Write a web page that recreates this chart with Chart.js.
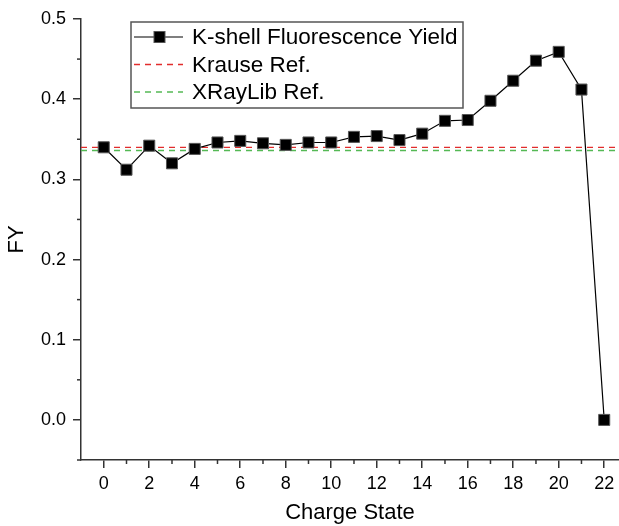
<!DOCTYPE html>
<html>
<head>
<meta charset="utf-8">
<script src="https://cdn.jsdelivr.net/npm/chart.js@4/dist/chart.umd.min.js"></script>
<style>
  html, body { margin: 0; padding: 0; background: #fff; }
  #wrap { width: 619px; height: 526px; }
  canvas { display: block; }
</style>
</head>
<body>
<div id="wrap"><canvas id="fyChart" width="619" height="526"></canvas></div>
<script>
const chargeState = [0, 1, 2, 3, 4, 5, 6, 7, 8, 9, 10, 11, 12, 13, 14, 15, 16, 17, 18, 19, 20, 21, 22];
const fluorescenceYield = [0.340, 0.312, 0.342, 0.320, 0.338, 0.346, 0.348, 0.345, 0.343, 0.346, 0.346, 0.353,
  0.354, 0.349, 0.357, 0.373, 0.374, 0.398, 0.423, 0.448, 0.459, 0.412, 0.000];
const krauseRef = 0.340;
const xraylibRef = 0.336;

const xLimits = [-1, 22.65];
const yLimits = [-0.05, 0.5];
const xTicks = [0, 2, 4, 6, 8, 10, 12, 14, 16, 18, 20, 22];
const yTicks = [0.0, 0.1, 0.2, 0.3, 0.4, 0.5];
const xMinorTicks = [1, 3, 5, 7, 9, 11, 13, 15, 17, 19, 21];
const yMinorTicks = [-0.05, 0.05, 0.15, 0.25, 0.35, 0.45];

const seriesLabels = ["K-shell Fluorescence Yield", "Krause Ref.", "XRayLib Ref."];
const axisColor = "#333";
const font = "'Liberation Sans', Arial, sans-serif";

// minor ticks + boxed legend like the original plot
const extras = {
  id: "extras",
  afterDraw(chart) {
    const ctx = chart.ctx;
    const xs = chart.scales.x;
    const ys = chart.scales.y;
    const area = chart.chartArea;
    ctx.save();
    ctx.strokeStyle = axisColor;
    ctx.lineWidth = 1.5;
    xMinorTicks.forEach((v) => {
      const px = xs.getPixelForValue(v);
      ctx.beginPath();
      ctx.moveTo(px, area.bottom);
      ctx.lineTo(px, area.bottom + 4);
      ctx.stroke();
    });
    yMinorTicks.forEach((v) => {
      const py = ys.getPixelForValue(v);
      ctx.beginPath();
      ctx.moveTo(area.left, py);
      ctx.lineTo(area.left - 4, py);
      ctx.stroke();
    });

    // legend
    const bx = area.left + 50;
    const by = area.top + 3;
    const bw = 332;
    const bh = 86;
    ctx.strokeStyle = "#555";
    ctx.lineWidth = 1.5;
    ctx.strokeRect(bx, by, bw, bh);
    ctx.font = "22.5px " + font;
    ctx.textBaseline = "middle";
    ctx.fillStyle = "#000";
    chart.data.datasets.forEach((ds, i) => {
      const cy = by + 15 + i * 27.5;
      ctx.strokeStyle = ds.borderColor;
      ctx.lineWidth = ds.borderWidth;
      ctx.setLineDash(ds.borderDash || []);
      ctx.beginPath();
      ctx.moveTo(bx + 3, cy);
      ctx.lineTo(bx + 52, cy);
      ctx.stroke();
      ctx.setLineDash([]);
      if (i === 0) {
        ctx.fillStyle = "#000";
        ctx.strokeStyle = "#555";
        ctx.lineWidth = 1;
        ctx.fillRect(bx + 23, cy - 5.5, 11, 11);
        ctx.strokeRect(bx + 23, cy - 5.5, 11, 11);
      }
      ctx.fillStyle = "#000";
      ctx.fillText(ds.label, bx + 61, cy + 1);
    });
    ctx.restore();
  },
};

const ctx = document.getElementById("fyChart").getContext("2d");
const chart = new Chart(ctx, {
  type: "line",
  data: {
    datasets: [
      {
        label: seriesLabels[0],
        data: chargeState.map((c, i) => ({ x: c, y: fluorescenceYield[i] })),
        borderColor: "#000",
        borderWidth: 1.2,
        pointStyle: "rect",
        pointRadius: 7.8,
        pointBackgroundColor: "#000",
        pointBorderColor: "#555",
        pointBorderWidth: 1,
        order: 0,
      },
      {
        label: seriesLabels[1],
        data: xLimits.map((x) => ({ x: x, y: krauseRef })),
        borderColor: "rgb(225, 45, 45)",
        borderWidth: 1.3,
        borderDash: [6, 5],
        pointRadius: 0,
        order: 1,
      },
      {
        label: seriesLabels[2],
        data: xLimits.map((x) => ({ x: x, y: xraylibRef })),
        borderColor: "rgb(85, 185, 85)",
        borderWidth: 1.3,
        borderDash: [6, 5],
        pointRadius: 0,
        order: 2,
      },
    ],
  },
  options: {
    responsive: false,
    animation: false,
    layout: { autoPadding: false, padding: { top: 19, right: 0, left: 0, bottom: 0 } },
    plugins: {
      legend: { display: false },
      tooltip: { enabled: false },
    },
    scales: {
      x: {
        type: "linear",
        min: xLimits[0],
        max: xLimits[1],
        afterBuildTicks: (s) => {
          s.ticks = xTicks.map((v) => ({ value: v }));
        },
        afterFit: (s) => {
          s.height = 66;
          s.paddingLeft = 0;
          s.paddingRight = 0;
        },
        ticks: {
          color: "#000",
          font: { family: font, size: 18 },
          padding: 5,
          maxRotation: 0,
          callback: (v) => String(v),
        },
        grid: { drawOnChartArea: false, tickLength: 8, color: axisColor, lineWidth: 1.5 },
        border: { display: true, color: axisColor, width: 1.5 },
        title: {
          display: true,
          text: "Charge State",
          color: "#000",
          font: { family: font, size: 22 },
          padding: { top: 0, bottom: 0 },
        },
      },
      y: {
        type: "linear",
        min: yLimits[0],
        max: yLimits[1],
        afterBuildTicks: (s) => {
          s.ticks = yTicks.map((v) => ({ value: v }));
        },
        afterFit: (s) => {
          s.width = 81;
          s.paddingTop = 0;
          s.paddingBottom = 0;
        },
        ticks: {
          color: "#000",
          font: { family: font, size: 18 },
          padding: 7,
          callback: (v) => v.toFixed(1),
        },
        grid: { drawOnChartArea: false, tickLength: 8, color: axisColor, lineWidth: 1.5 },
        border: { display: true, color: axisColor, width: 1.5 },
        title: {
          display: true,
          text: "FY",
          color: "#000",
          font: { family: font, size: 22 },
          padding: { top: 4, bottom: 0 },
        },
      },
    },
  },
  plugins: [extras],
});
</script>
</body>
</html>
